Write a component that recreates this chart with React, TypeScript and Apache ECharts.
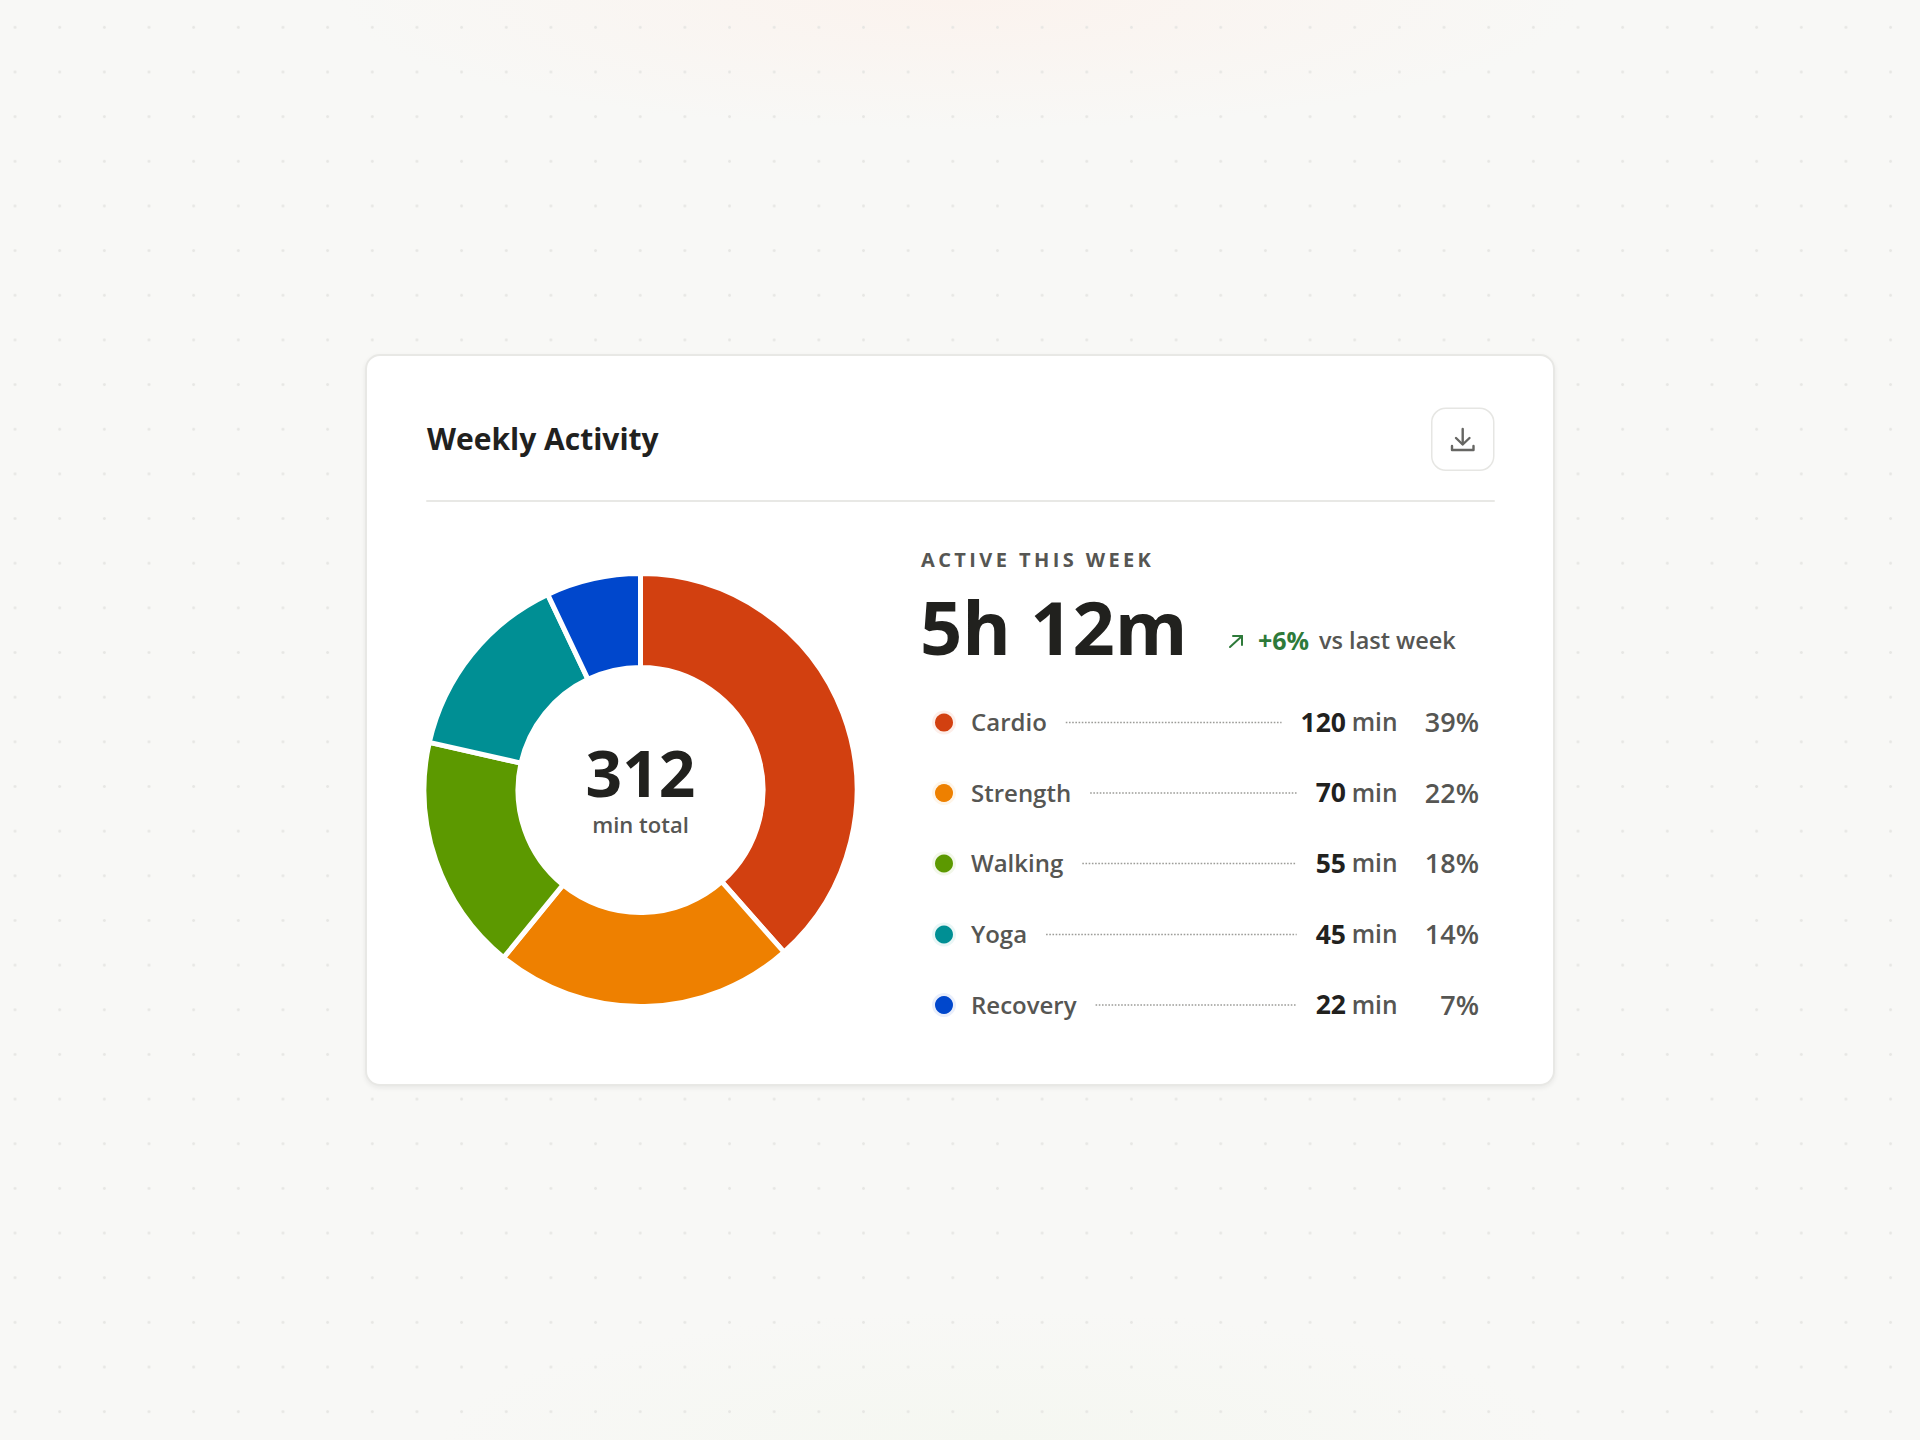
import { useEffect, useRef } from 'react'
import * as echarts from 'echarts'

const categories = ['Cardio', 'Strength', 'Walking', 'Yoga', 'Recovery']
const minutes = [120, 70, 55, 45, 22]
const shares = ['39%', '22%', '18%', '14%', '7%']
const colors = ['#d24010', '#ee8000', '#5c9900', '#008f94', '#0047cc']
const halos = ['#fdeee9', '#fef5e9', '#f2f7e9', '#e9f6f6', '#e9eefb']
const rowCenters = [721.5, 792, 862.5, 933.5, 1004]

const FONT = '"Open Sans", sans-serif'
const INK = '#21211e'
const MUTED = '#565653'
const GREEN = '#2e7a3a'

function measure(text: string, size: number, weight: number) {
  const ctx = document.createElement('canvas').getContext('2d')!
  ctx.font = `${weight} ${size}px "Open Sans"`
  return ctx.measureText(text).width
}

function label(text: string, x: number, y: number, size: number, weight: number, fill: string, align = 'left') {
  return {
    type: 'text',
    x,
    y,
    silent: true,
    style: { text, fontFamily: FONT, fontSize: size, fontWeight: weight, fill, align, verticalAlign: 'middle' },
  }
}

function stroke(type: string, shape: object, color: string, lineWidth: number, dash?: number[]) {
  return {
    type,
    shape,
    silent: true,
    style: { stroke: color, fill: 'none', lineWidth, lineCap: dash ? 'butt' : 'round', lineJoin: 'round', lineDash: dash },
  }
}

function buildRows() {
  const out: object[] = []
  categories.forEach((name, i) => {
    const y = rowCenters[i]
    const dotY = y + 1
    const start = 971 + measure(name, 24, 600) + 19
    const valueWidth = measure(String(minutes[i]), 26.5, 700)
    const end = Math.min(1297, 1346 - valueWidth - 19)
    out.push({ type: 'circle', shape: { cx: 944, cy: dotY, r: 12 }, silent: true, style: { fill: halos[i] } })
    out.push({ type: 'circle', shape: { cx: 944, cy: dotY, r: 9 }, silent: true, style: { fill: colors[i] } })
    out.push(label(name, 971, y, 24, 600, MUTED))
    out.push(stroke('line', { x1: start, y1: dotY, x2: end, y2: dotY }, '#9c9c98', 1.5, [1.6, 1.6]))
    out.push(label(String(minutes[i]), 1346, y, 26.5, 700, INK, 'right'))
    out.push(label('min', 1397.5, y, 24.5, 600, MUTED, 'right'))
    out.push(label(shares[i], 1479, y, 27, 600, MUTED, 'right'))
  })
  return out
}

export default function App() {
  const chartEl = useRef<HTMLDivElement>(null)

  useEffect(() => {
    document.body.style.margin = '0'
    const el = chartEl.current
    if (!el) return
    const chart = echarts.init(el, null, { renderer: 'svg' })

    chart.setOption({
      animation: false,
      backgroundColor: 'transparent',
      series: [
        {
          type: 'pie',
          center: [640.5, 790],
          radius: [122.5, 216.5],
          startAngle: 90,
          clockwise: true,
          silent: true,
          label: { show: false },
          labelLine: { show: false },
          itemStyle: { borderColor: '#ffffff', borderWidth: 5 },
          data: categories.map((name, i) => ({
            name,
            value: minutes[i],
            itemStyle: { color: colors[i] },
          })),
        },
      ],
      graphic: {
        elements: [
          label('Weekly Activity', 427, 438, 30, 700, INK),
          {
            type: 'rect',
            shape: { x: 1431.75, y: 408.25, width: 62, height: 62, r: 14 },
            silent: true,
            style: { fill: '#ffffff', stroke: '#e6e6e3', lineWidth: 1.5 },
          },
          stroke('line', { x1: 1462.7, y1: 429, x2: 1462.7, y2: 444 }, '#666663', 2.4),
          stroke('polyline', { points: [[1456, 438], [1462.7, 444.5], [1469.5, 438]] }, '#666663', 2.4),
          stroke('polyline', { points: [[1452, 446], [1452, 450], [1473.5, 450], [1473.5, 446]] }, '#666663', 2.4),
          stroke('line', { x1: 427, y1: 501, x2: 1494, y2: 501 }, '#e8e8e5', 2),

          label('312', 640.5, 772, 64, 700, INK, 'center'),
          label('min total', 640.5, 824, 22, 600, MUTED, 'center'),

          label('ACTIVE THIS WEEK', 921, 559, 20, 700, MUTED),
          label('5h 12m', 920, 626, 74, 700, INK),
          stroke('line', { x1: 1230, y1: 647, x2: 1242, y2: 636 }, GREEN, 2),
          stroke('polyline', { points: [[1233, 636], [1242, 636], [1242, 645]] }, GREEN, 2),
          label('+6%', 1258, 640, 25, 700, GREEN),
          label('vs last week', 1319, 640, 23.5, 600, MUTED),
          ...buildRows(),
        ],
      },
    })

    // letter spacing is not a zrender text option, so set it on the svg node
    el.querySelectorAll('text').forEach((t) => {
      if (t.textContent === 'ACTIVE THIS WEEK') t.style.letterSpacing = '3.4px'
    })

    return () => chart.dispose()
  }, [])

  return (
    <div
      style={{
        position: 'absolute',
        left: 0,
        top: 0,
        width: 1920,
        height: 1440,
        overflow: 'hidden',
        backgroundColor: '#f8f8f6',
        backgroundImage:
          'radial-gradient(circle, #e7e7e4 1.2px, transparent 1.6px), radial-gradient(ellipse 620px 130px at 960px 0px, #fbf3ee, transparent), radial-gradient(ellipse 560px 130px at 1000px 1440px, #f5f7f1, transparent)',
        backgroundSize: '44.67px 44.67px, 100% 100%, 100% 100%',
        backgroundPosition: '-7.3px 5px, 0 0, 0 0',
      }}
    >
      <div
        style={{
          position: 'absolute',
          left: 365,
          top: 354,
          width: 1190,
          height: 732,
          boxSizing: 'border-box',
          background: '#ffffff',
          border: '2px solid #e8e8e5',
          borderRadius: 15,
          boxShadow: '0 2px 5px rgba(30,30,25,0.07)',
        }}
      />
      <div ref={chartEl} style={{ position: 'absolute', left: 0, top: 0, width: 1920, height: 1440 }} />
    </div>
  )
}
